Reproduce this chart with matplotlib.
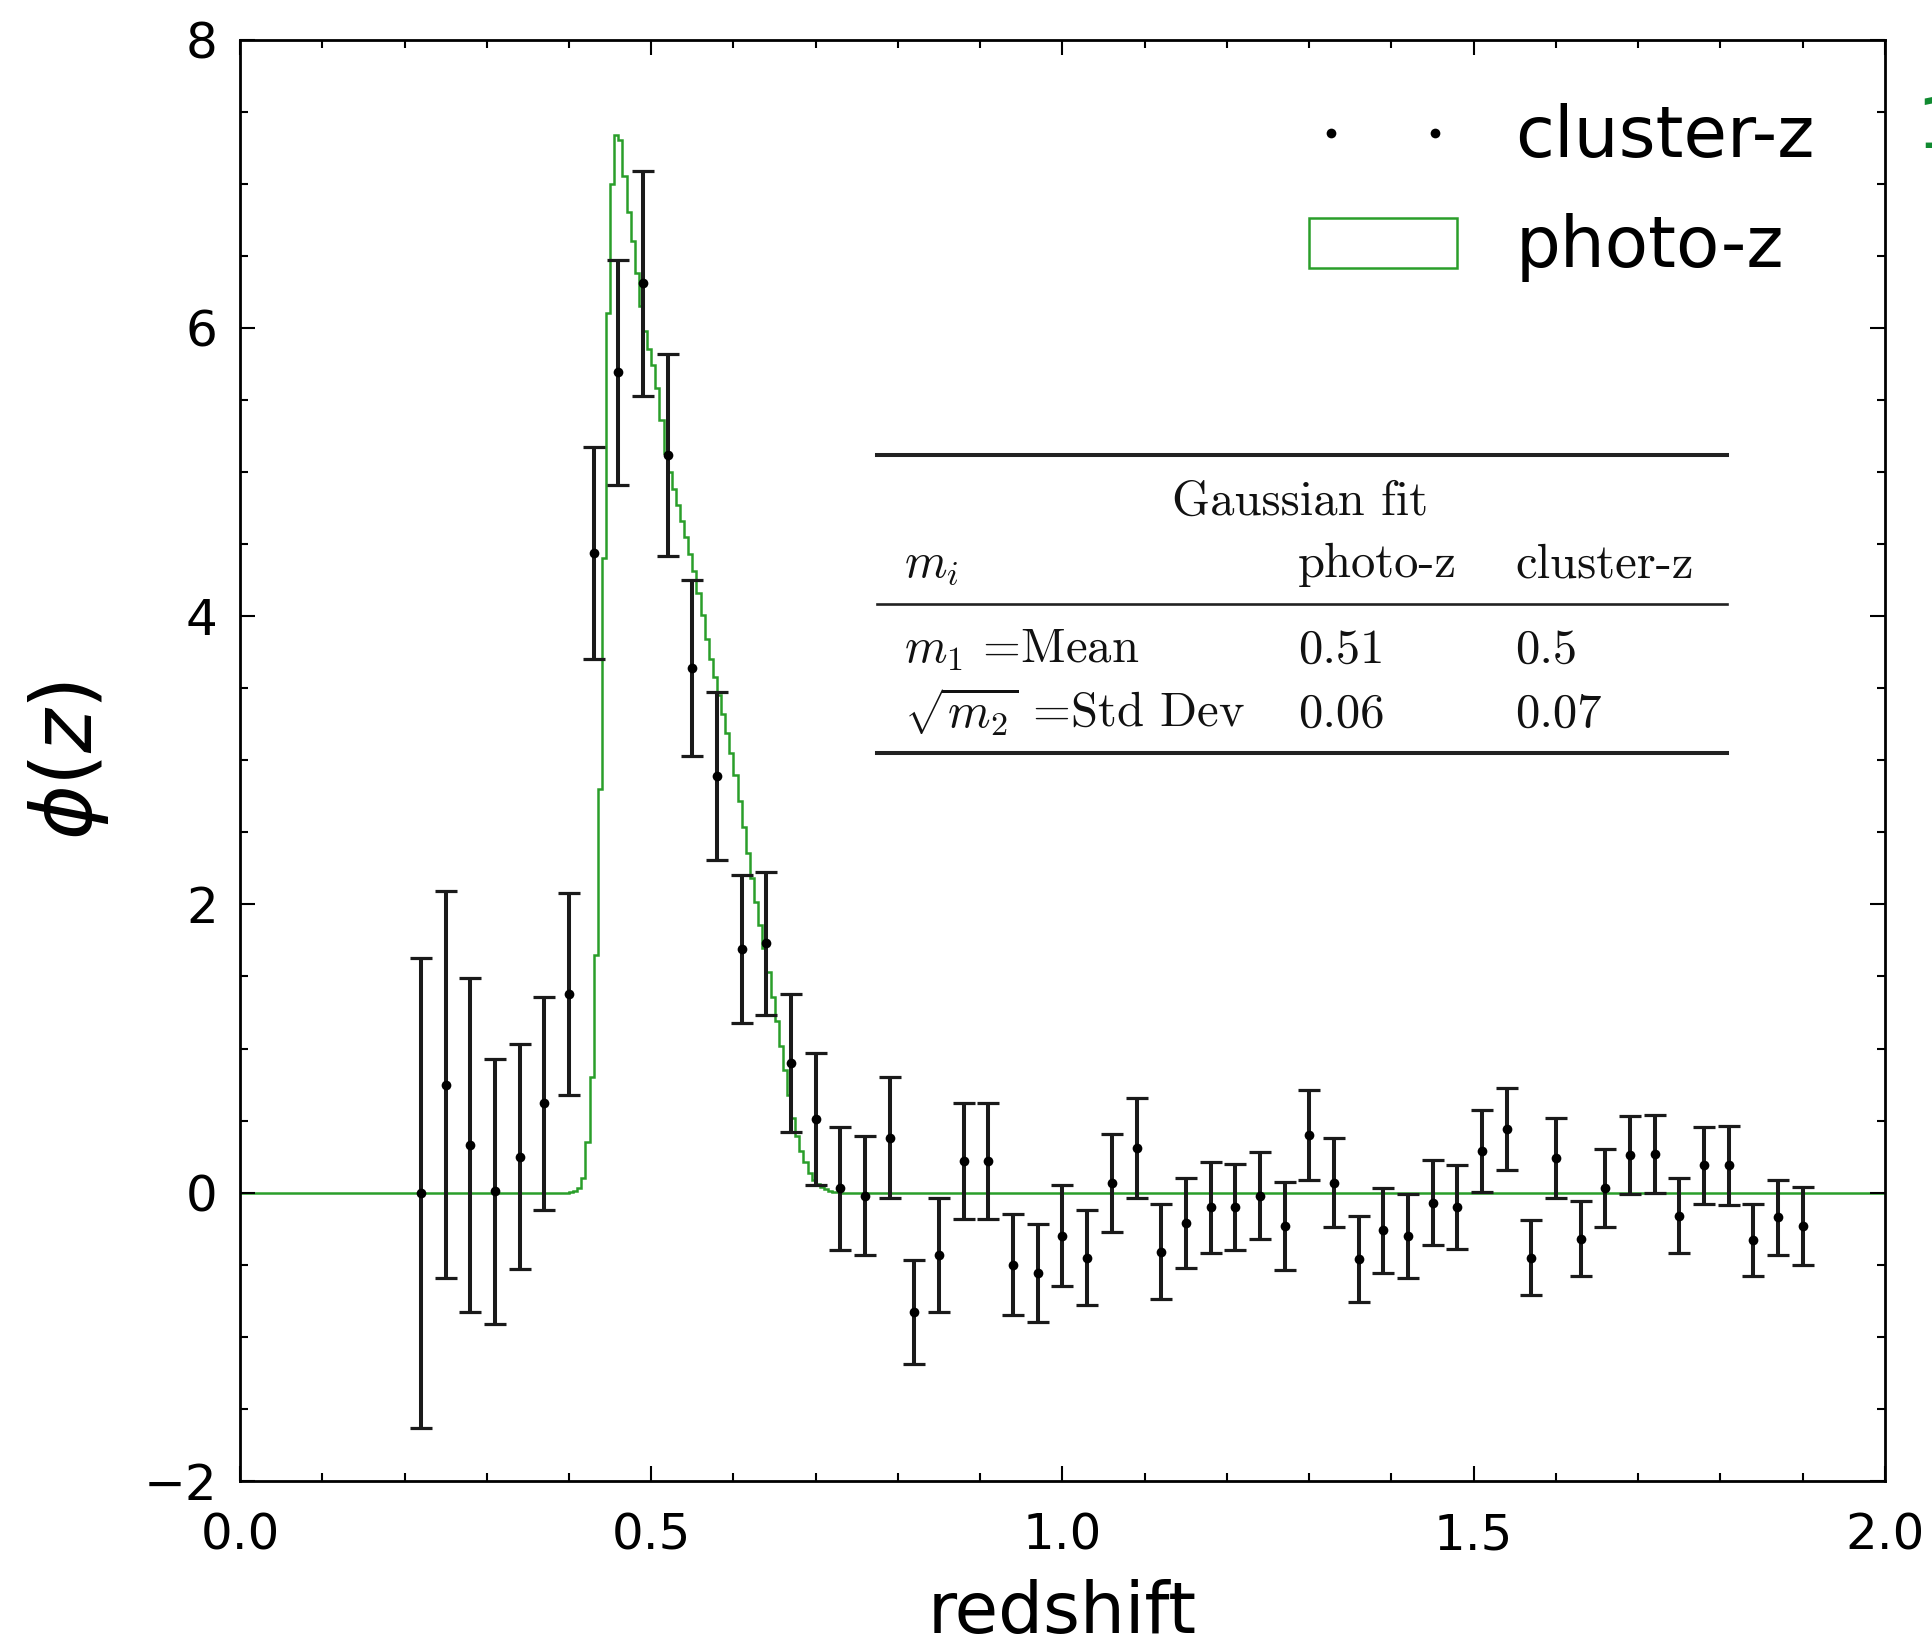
import numpy as np
import matplotlib
matplotlib.use('Agg')
import matplotlib.pyplot as plt
import matplotlib.patches as mpatches
from matplotlib.lines import Line2D
from matplotlib.ticker import MultipleLocator

# cluster-z: bin centres, phi(z) and errors
z_cluster = [0.22, 0.25, 0.28, 0.31, 0.34, 0.37, 0.40, 0.43, 0.46, 0.49,
             0.52, 0.55, 0.58, 0.61, 0.64, 0.67, 0.70, 0.73, 0.76, 0.79,
             0.82, 0.85, 0.88, 0.91, 0.94, 0.97, 1.00, 1.03, 1.06, 1.09,
             1.12, 1.15, 1.18, 1.21, 1.24, 1.27, 1.30, 1.33, 1.36, 1.39,
             1.42, 1.45, 1.48, 1.51, 1.54, 1.57, 1.60, 1.63, 1.66, 1.69,
             1.72, 1.75, 1.78, 1.81, 1.84, 1.87, 1.90]
phi_cluster = [0.00, 0.75, 0.33, 0.01, 0.25, 0.62, 1.38, 4.44, 5.69, 6.31,
               5.12, 3.64, 2.89, 1.69, 1.73, 0.90, 0.51, 0.03, -0.02, 0.38,
               -0.83, -0.43, 0.22, 0.22, -0.50, -0.56, -0.30, -0.45, 0.07, 0.31,
               -0.41, -0.21, -0.10, -0.10, -0.02, -0.23, 0.40, 0.07, -0.46, -0.26,
               -0.30, -0.07, -0.10, 0.29, 0.44, -0.45, 0.24, -0.32, 0.03, 0.26,
               0.27, -0.16, 0.19, 0.19, -0.33, -0.17, -0.23]
err_cluster = [1.63, 1.34, 1.16, 0.92, 0.78, 0.74, 0.70, 0.735, 0.78, 0.78,
               0.70, 0.61, 0.58, 0.515, 0.495, 0.48, 0.46, 0.425, 0.41, 0.42,
               0.36, 0.395, 0.40, 0.40, 0.35, 0.34, 0.35, 0.33, 0.34, 0.35,
               0.33, 0.31, 0.315, 0.30, 0.30, 0.305, 0.31, 0.31, 0.295, 0.295,
               0.29, 0.295, 0.29, 0.285, 0.285, 0.26, 0.28, 0.26, 0.27, 0.27,
               0.27, 0.26, 0.265, 0.275, 0.25, 0.26, 0.27]

# photo-z histogram, non-zero part only (bins of 0.005 between 0.40 and 0.73)
photo_lo, photo_hi = 0.40, 0.73
phi_photo = [0.005, 0.01, 0.03, 0.10, 0.35, 0.80, 1.65, 2.80, 4.40, 6.10,
             7.00, 7.34, 7.30, 7.05, 6.80, 6.60, 6.38, 6.15, 5.98, 5.85,
             5.74, 5.58, 5.36, 5.13, 5.00, 4.88, 4.77, 4.66, 4.55, 4.43,
             4.31, 4.16, 4.01, 3.84, 3.70, 3.58, 3.45, 3.32, 3.19, 3.05,
             2.90, 2.72, 2.54, 2.36, 2.18, 2.02, 1.86, 1.70, 1.53, 1.36,
             1.19, 1.02, 0.85, 0.68, 0.52, 0.39, 0.29, 0.21, 0.14, 0.09,
             0.06, 0.04, 0.025, 0.015, 0.008, 0.004]

# Gaussian fit table
table_cols = ['photo-z', 'cluster-z']
table_rows = [(r'$m_1$ =Mean', '0.51', '0.5'),
              (r'$\sqrt{m_2}$ =Std Dev', '0.06', '0.07')]

W, H = 1933, 1645
fig = plt.figure(figsize=(W / 100, H / 100), dpi=100)
ax = fig.add_axes([240 / W, 1 - 1481 / H, (1885 - 240) / W, (1481 - 39.5) / H])

green = '#2a9e2a'
edges = np.concatenate([[0.0], np.linspace(photo_lo, photo_hi, len(phi_photo) + 1), [2.0]])
vals = np.concatenate([[0.0], phi_photo, [0.0]])
ax.stairs(vals, edges, color=green, lw=1.8, baseline=None)

ax.errorbar(z_cluster, phi_cluster, yerr=err_cluster, fmt='none',
            ecolor='#1a1a1a', elinewidth=2.9, capsize=8, capthick=2.3)
ax.plot(z_cluster, phi_cluster, 'o', color='k', ms=7, mew=0)

ax.set_xlim(0, 2)
ax.set_ylim(-2, 8)
ax.xaxis.set_major_locator(MultipleLocator(0.5))
ax.xaxis.set_minor_locator(MultipleLocator(0.1))
ax.yaxis.set_major_locator(MultipleLocator(2))
ax.yaxis.set_minor_locator(MultipleLocator(0.5))
ax.tick_params(which='both', direction='in', top=True, right=True, width=1.5)
ax.tick_params(which='major', length=11, labelsize=36)
ax.tick_params(which='minor', length=6)
ax.tick_params(axis='x', which='major', pad=22)
ax.tick_params(axis='y', which='major', pad=16)
for s in ax.spines.values():
    s.set_linewidth(2)

ax.set_xlabel('redshift', fontsize=51, labelpad=14)
ax.set_ylabel(r'$\phi(z)$', fontsize=60, labelpad=24)

# legend
h1 = Line2D([], [], ls='none', marker='o', color='k', ms=7, mew=0)
h2 = mpatches.Patch(facecolor='none', edgecolor=green, lw=1.8)
ax.legend([h1, h2], ['cluster-z', 'photo-z'], loc='upper left',
          bbox_to_anchor=(1274 / W, 1 - 68 / H), bbox_transform=fig.transFigure,
          frameon=False, numpoints=2, fontsize=51, borderpad=0,
          handlelength=2.08, handletextpad=0.83, labelspacing=0.58)

# stray green label cut at the right edge, as in the source
fig.text(1916 / W, 1 - 128 / H, '1', color='#108a30', fontsize=51, ha='left', va='center')

# table
tcol = '#111111'
fs_t = 35


def ttext(x, y, s, ha='left'):
    fig.text(x / W, 1 - y / H, s, ha=ha, va='baseline', fontsize=fs_t,
             family='cmr10', math_fontfamily='cm', color=tcol)


for y, lw in [(455, 2.9), (604, 1.9), (753, 2.9)]:
    fig.add_artist(Line2D([877 / W, 1727 / W], [1 - y / H] * 2,
                          transform=fig.transFigure, color='#222222', lw=lw))

ttext(1300, 515, 'Gaussian fit', ha='center')
ttext(904, 577, r'$m_i$')
ttext(1298, 577, table_cols[0])
ttext(1515, 577, table_cols[1])
for (lab, a, b), y in zip(table_rows, [663, 727]):
    ttext(904, y, lab)
    ttext(1298, y, a)
    ttext(1515, y, b)

fig.savefig('out.png', dpi=100, facecolor='white')
